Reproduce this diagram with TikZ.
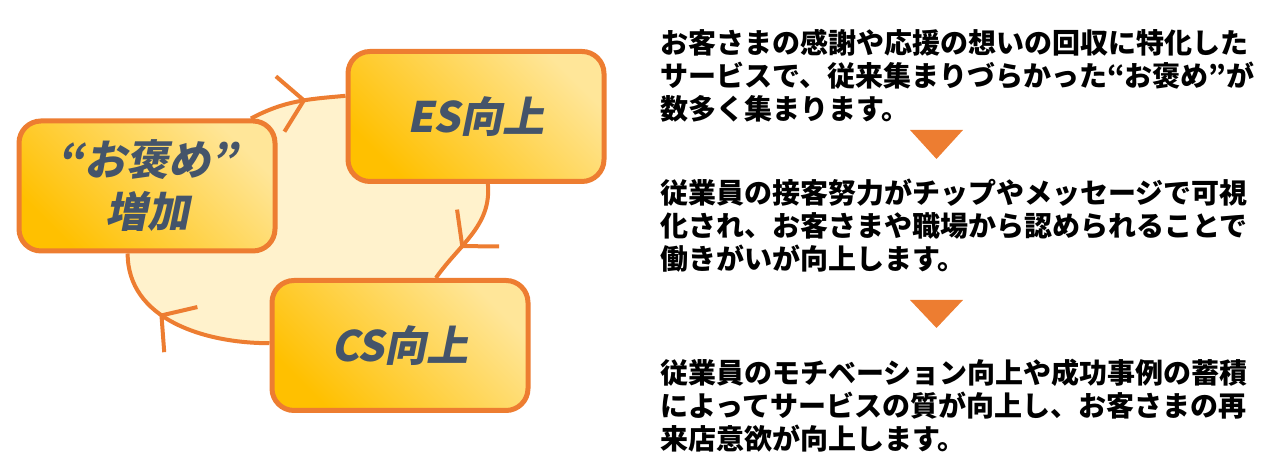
\documentclass[tikz,border=0pt]{standalone}
\usepackage{fontspec}
\newfontfamily\jpfont{Noto Sans CJK JP}
\newfontfamily\jpslant{Noto Sans CJK JP}[FakeSlant=0.2]
\usetikzlibrary{arrows.meta,decorations.markings,backgrounds}
\definecolor{cycorange}{HTML}{ED7D31}
\definecolor{boxdark}{HTML}{FFC000}
\definecolor{boxlight}{HTML}{FFE699}
\definecolor{loopcream}{HTML}{FFF2CC}
\definecolor{labelblue}{HTML}{44546A}

\begin{document}
\begin{tikzpicture}[x=0.5pt, y=0.5pt,
  stage/.style={draw=cycorange, line width=2.5pt, rounded corners=11pt, minimum width=128pt, minimum height=65pt, align=center, inner sep=0pt,
    top color=boxlight, bottom color=boxdark, shading angle=-45, text=labelblue, font=\jpslant\bfseries\fontsize{21}{26}\selectfont},
  cyc/.style={color=cycorange, line width=2pt, postaction={decorate},
    decoration={markings, mark=at position #1 with {\arrow{Straight Barb[length=12pt, width=28pt]}}}},
  note/.style={align=left, inner sep=0pt, font=\jpfont\bfseries\fontsize{14}{16.5}\selectfont},
  pointer/.style={fill=cycorange}]
\useasboundingbox (0,0) rectangle (1280,474);

% cycle boxes
\node[stage] (homete) at (147,288) {“お褒め”\\増加};
\node[stage] (es) at (476,357.5) {ES向上};
\node[stage] (cs) at (400,128.5) {CS向上};

\begin{scope}[on background layer]
  \fill[loopcream] (homete.33) to[out=28, in=185] (es.171) -- (es.-80)
    to[out=-85, in=55] (cs.62) -- (cs.179) to[out=180, in=-90] (homete.254) -- cycle;
  \draw[cyc=0.6] (homete.33) to[out=28, in=185] (es.171);
  \draw[cyc=0.65] (es.-80) to[out=-85, in=55] (cs.62);
  \draw[cyc=0.62] (cs.179) to[out=180, in=-90] (homete.254);
\end{scope}

% explanation (base = last line)
\node[note, anchor=base west] (step1) at (660,354.4)
  {お客さまの感謝や応援の想いの回収に特化した\\サービスで、従来集まりづらかった“お褒め”が\\数多く集まります。};
\node[note, anchor=base west] (step2) at (660,204.4)
  {従業員の接客努力がチップやメッセージで可視\\化され、お客さまや職場から認められることで\\働きがいが向上します。};
\node[note, anchor=base west] (step3) at (660,24.4)
  {従業員のモチベーション向上や成功事例の蓄積\\によってサービスの質が向上し、お客さまの再\\来店意欲が向上します。};

\fill[pointer] (910,344) -- (963,344) -- (936.5,315) -- cycle;
\fill[pointer] (910,174) -- (963,174) -- (936.5,146) -- cycle;
\end{tikzpicture}
\end{document}
